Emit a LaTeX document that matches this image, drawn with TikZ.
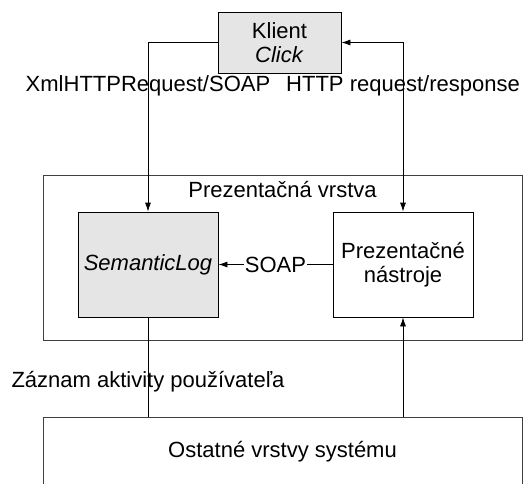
\documentclass[tikz,border=0pt]{standalone}
\usepackage{fontspec}
\setmainfont{Liberation Sans}
\usetikzlibrary{arrows.meta}

\begin{document}
\begin{tikzpicture}[x=1pt,y=-1pt,line width=0.8pt,font=\fontsize{22}{24}\selectfont,
		>={Latex[length=9pt,width=6pt]},
		vrstva/.style={draw=black!75,minimum width=479pt},
		blok/.style={draw,minimum width=140pt,minimum height=105pt,align=center},
		sedy/.style={fill=gray!20}]
			\useasboundingbox (0,0) rectangle (527,483);
			% klient hore
			\node [draw,sedy,minimum width=123pt,minimum height=61pt,align=center] (klient) at (279.5,42.5) {Klient\\\textit{Click}};
			% prezentacna vrstva
			\node [vrstva,minimum height=165pt] (prez) at (282.5,257.5) {};
			\node [anchor=north] (prezText) at ([yshift=-3pt]prez.north) {Prezentačná vrstva};
			\node [blok,sedy] (semlog) at (148,264.5) {\textit{SemanticLog}};
			\node [blok] (nastroje) at (403,264.5) {Prezentačné\\nástroje};
			% ostatne vrstvy dole
			\node [vrstva,minimum height=110pt,anchor=north] (ostatne) at (282.5,417) {};
			\node (ostatneText) at (282.5,452) {Ostatné vrstvy systému};

			\draw [->] (klient.west) -| (semlog.north);
			\draw [<->] (klient.east) -| (nastroje.north);
			\draw [->] (nastroje.west) -- node[fill=white,inner sep=1pt]{SOAP} (semlog.east);
			\draw (semlog.south) -- (semlog.south |- ostatne.north);
			\draw [->] (nastroje.south |- ostatne.north) -- (nastroje.south);

			\node (xmlLabel) at (148,86) {XmlHTTPRequest/SOAP};
			\node (httpLabel) at (403,86) {HTTP request/response};
			\node (zaznamLabel) at (148,382) {Záznam aktivity používateľa};
\end{tikzpicture}
\end{document}
